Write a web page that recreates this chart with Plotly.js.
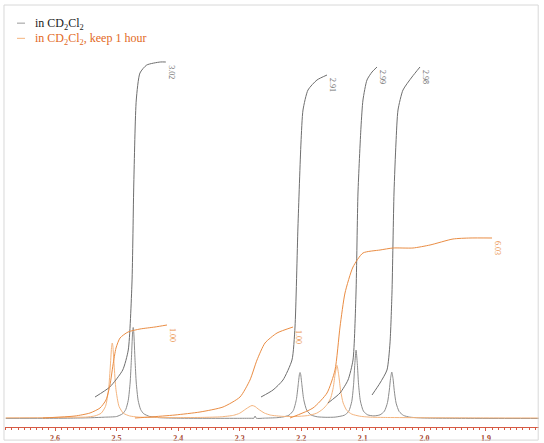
<!DOCTYPE html>
<html>
<head>
<meta charset="utf-8">
<script src="https://cdn.plot.ly/plotly-3.0.1.min.js"></script>
<style>html,body{margin:0;padding:0;background:#fff;}#chart{width:544px;height:443px;}</style>
</head>
<body>
<div id="chart"></div>
<script>
// ---- data (chemical shift in ppm, intensity in arbitrary units) ----
const seriesNames = ["in CD<sub>2</sub>Cl<sub>2</sub>", "in CD<sub>2</sub>Cl<sub>2</sub>, keep 1 hour"];
const tickVals = [2.6, 2.5, 2.4, 2.3, 2.2, 2.1, 2.0, 1.9];
const tickText = ["2.6", "2.5", "2.4", "2.3", "2.2", "2.1", "2.0", "1.9"];

// spectrum 1 (in CD2Cl2)
const graySpecX = [2.68,2.62,2.57,2.54,2.52,2.50,2.49,2.485,2.481,2.478,2.476,2.474,2.473,2.472,2.470,2.468,2.465,2.461,2.456,2.446,2.43,2.40,2.35,2.30,2.28,2.277,2.275,2.273,2.26,2.24,2.23,2.22,2.213,2.208,2.205,2.203,2.202,2.201,2.199,2.196,2.191,2.184,2.174,2.16,2.145,2.13,2.123,2.118,2.115,2.113,2.111,2.109,2.107,2.104,2.099,2.092,2.082,2.072,2.065,2.06,2.057,2.055,2.053,2.051,2.049,2.046,2.041,2.034,2.024,2.01,1.99,1.95,1.90,1.81];
const graySpecY = [0.6,0.7,0.9,1.3,1.8,2.5,5.3,9.6,18.7,36,58.7,86,91.5,86,58.7,36,18.7,9.6,5.3,2.5,1.3,0.8,0.7,0.7,0.75,0.75,3,0.75,0.85,1.3,2,3.8,8.4,19.4,34.3,44.7,46.5,44.7,34.3,19.4,8.6,4,2.2,1.7,1.9,3.8,7.6,17.5,34.8,55.2,68.9,55.3,34.9,18,7.8,4.1,3.1,4.2,7.8,16.4,28.9,40.6,46.9,40.5,28.5,15.9,7.5,3.6,1.9,1.2,0.85,0.65,0.55,0.5];

// spectrum 2 (in CD2Cl2, keep 1 hour)
const orangeSpecX = [2.68,2.62,2.57,2.55,2.535,2.525,2.518,2.513,2.510,2.508,2.507,2.506,2.504,2.501,2.496,2.489,2.479,2.465,2.44,2.40,2.36,2.33,2.31,2.30,2.29,2.285,2.28,2.275,2.27,2.26,2.25,2.23,2.21,2.19,2.175,2.165,2.158,2.152,2.148,2.145,2.142,2.139,2.136,2.132,2.126,2.118,2.105,2.09,2.06,2.00,1.90,1.81];
const orangeSpecY = [1.2,1.4,1.8,1.9,3.1,5.8,12.6,29.5,54,72.8,76,72.8,54,29.5,12.6,5.8,3.1,1.9,1.6,1.4,1.6,2.2,3.7,5.8,10,12,13.5,12.5,10,6,3.9,2.6,2.5,3.4,5.8,9.9,14.6,21.4,31.6,45,53.6,43.1,28,16.1,8.5,4.9,2.8,1.9,1.5,1.3,1.1,1.0];

// integral curves, spectrum 1
const grayInt1X = [2.535,2.511,2.490,2.481,2.475,2.472,2.468,2.462,2.451,2.429,2.420];
const grayInt1Y = [22,32,49,69,136,236,319,346,354,357,357];
const grayInt2X = [2.2654,2.2459,2.2297,2.2151,2.2102,2.2054,2.2005,2.1972,2.1891,2.1745,2.1582];
const grayInt2Y = [22,29,39,59,92,192,276,309,329,339,344];
const grayInt3X = [2.1566,2.1371,2.1241,2.116,2.1111,2.1079,2.103,2.0998,2.0933,2.0851,2.077];
const grayInt3Y = [16,26,39,59,126,226,292,319,339,347,352];
const grayInt4X = [2.0851,2.0721,2.0608,2.0559,2.0527,2.0494,2.0462,2.0429,2.0348,2.0202,2.0072];
const grayInt4Y = [24,36,49,76,126,226,276,309,329,342,352];
const grayIntLabels = ["3.02", "2.91", "2.99", "2.98"];

// integral curves, spectrum 2
const orangeInt1X = [2.62,2.5675,2.5432,2.5269,2.5172,2.5107,2.5058,2.5009,2.4944,2.4814,2.4619,2.4376,2.4181];
const orangeInt1Y = [1,3,6,11,19,34,54,71,81,87,90,92,94];
const orangeInt2X = [2.4701,2.4457,2.4051,2.3645,2.3271,2.2995,2.2833,2.2719,2.2589,2.2394,2.2134];
const orangeInt2Y = [1,2,4,7,12,22,39,59,76,86,92];
const orangeInt3X = [2.2183,2.181,2.1582,2.1452,2.1371,2.129,2.116,2.0998,2.0721,2.051,2.0186,1.9909,1.9536,1.926,1.8902];
const orangeInt3Y = [1,11,26,49,92,126,152,166,169,171,171,174,180,181,181];
const orangeIntLabels = ["1.00", "1.00", "6.03"];

// ---- styling ----
const SERIF = "'Liberation Serif', 'Times New Roman', 'DejaVu Serif', serif";
const GRAY_SPEC = "#8c8c8c", GRAY_INT = "#6e6e6e";
const OR_SPEC = "#f4b47e", OR_INT = "#ea8d44", OR_TEXT = "#e2691e";
const AXIS_RED = "#d65a44";

function line(x, y, color, w) {
  return {x: x, y: y, type: "scatter", mode: "lines", hoverinfo: "skip",
          line: {color: color, width: w || 1, shape: "spline", smoothing: 0.6}};
}

const grayInts = [[grayInt1X, grayInt1Y], [grayInt2X, grayInt2Y], [grayInt3X, grayInt3Y], [grayInt4X, grayInt4Y]];
const orangeInts = [[orangeInt1X, orangeInt1Y], [orangeInt2X, orangeInt2Y], [orangeInt3X, orangeInt3Y]];

const traces = [
  line(graySpecX, graySpecY, GRAY_SPEC, 1),
  line(orangeSpecX, orangeSpecY, OR_SPEC, 1)
];
grayInts.forEach(c => traces.push(line(c[0], c[1], GRAY_INT, 1)));
orangeInts.forEach(c => traces.push(line(c[0], c[1], OR_INT, 1)));

const annotations = [];
function intLabel(c, text, color) {
  const n = c[0].length - 1;
  annotations.push({x: c[0][n], y: c[1][n], xref: "x", yref: "y", text: text, showarrow: false,
    textangle: 90, xshift: 6, yshift: -10, xanchor: "center", yanchor: "middle",
    font: {family: SERIF, size: 8, color: color}});
}
grayInts.forEach((c, i) => intLabel(c, grayIntLabels[i], GRAY_INT));
orangeInts.forEach((c, i) => intLabel(c, orangeIntLabels[i], OR_INT));

// legend (text + short dashes)
const legendColors = [["#9a9a9a", "#1a1a1a"], [OR_SPEC, OR_TEXT]];
const legendY = [0.955, 0.919];
const shapes = [];
seriesNames.forEach((name, i) => {
  annotations.push({xref: "paper", yref: "paper", x: 0.0524, y: legendY[i], xanchor: "left", yanchor: "middle",
    text: name, showarrow: false, font: {family: SERIF, size: 12, color: legendColors[i][1]}});
  shapes.push({type: "line", xref: "paper", yref: "paper", x0: 0.0225, x1: 0.0375, y0: legendY[i] + 0.002, y1: legendY[i] + 0.002,
    line: {color: legendColors[i][0], width: 1}});
});
// outer frame
shapes.push({type: "rect", xref: "paper", yref: "paper", x0: -0.0019, x1: 0.9985, y0: -0.031, y1: 1.0, line: {color: "#d8d8d8", width: 1}});

const layout = {
  width: 544, height: 443,
  margin: {l: 5, r: 5, t: 5, b: 16, pad: 0},
  paper_bgcolor: "#ffffff", plot_bgcolor: "#ffffff",
  showlegend: false,
  font: {family: SERIF},
  xaxis: {range: [2.6812, 1.8139], tickvals: tickVals, ticktext: tickText, ticks: "outside", ticklen: 3,
          tickcolor: AXIS_RED, tickwidth: 1, showline: true, linecolor: AXIS_RED, linewidth: 1,
          showgrid: false, zeroline: false, fixedrange: true,
          tickfont: {family: SERIF, size: 8, color: "#a8482e", weight: "bold"},
          minor: {dtick: 0.01, ticks: "outside", ticklen: 2, tickcolor: AXIS_RED, showgrid: false}},
  yaxis: {range: [-8, 414], visible: false, showgrid: false, zeroline: false, fixedrange: true},
  annotations: annotations,
  shapes: shapes
};

Plotly.newPlot("chart", traces, layout, {displayModeBar: false, staticPlot: true});
</script>
</body>
</html>
